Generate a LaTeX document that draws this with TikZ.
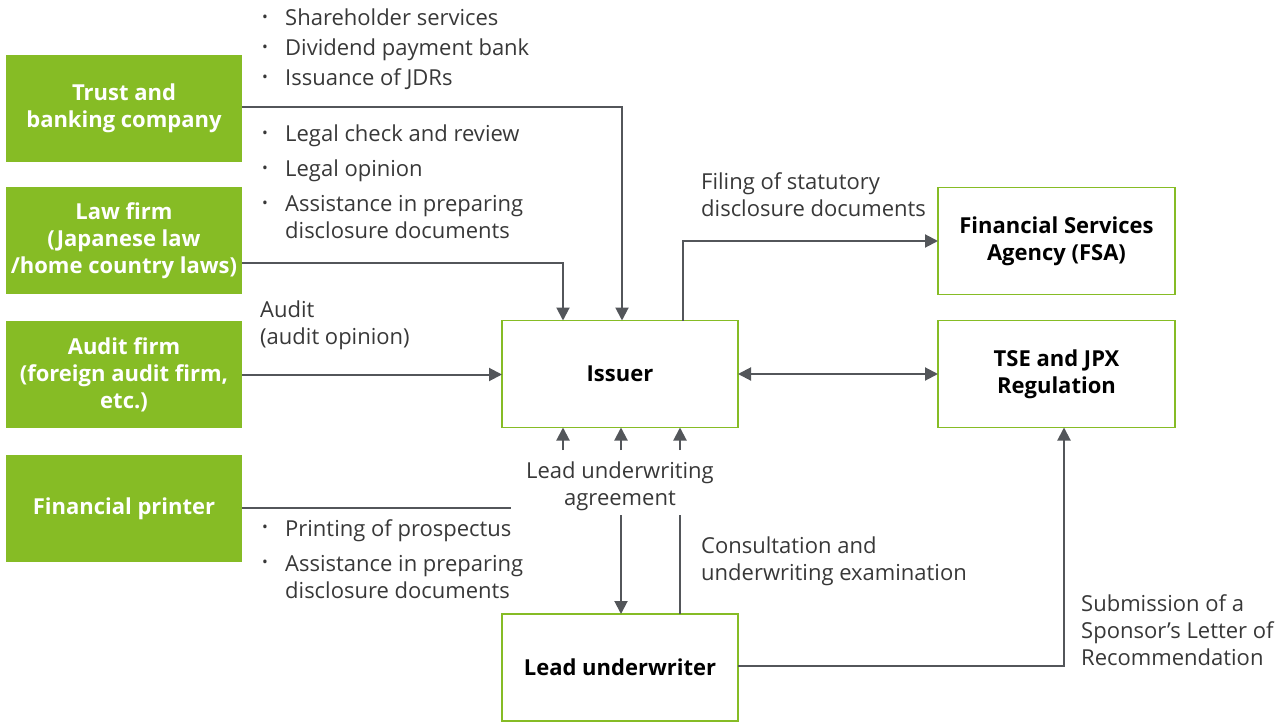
\documentclass[tikz,border=0pt]{standalone}
\usepackage{fontspec}
\setmainfont{Open Sans}
\usetikzlibrary{arrows.meta}
\definecolor{dgreen}{HTML}{86BC25}
\definecolor{lgray}{HTML}{53565A}
\definecolor{txt}{HTML}{383838}
\newcommand\bul{\makebox[23bp][l]{\raisebox{0.16em}{\scalebox{0.7}{•}}}}
\begin{document}
\begin{tikzpicture}[x=1bp,y=-1bp,
  solidbox/.style={fill=dgreen, text=white, font=\fontsize{22bp}{27bp}\selectfont\bfseries,
    minimum width=236bp, minimum height=107bp, align=center, inner sep=0, outer sep=0},
  outbox/.style={draw=dgreen, line width=1.5bp, fill=white, text=black,
    font=\fontsize{22bp}{27bp}\selectfont\bfseries,
    minimum width=236bp, minimum height=107bp, align=center, inner sep=0, outer sep=0},
  lbl/.style={text=txt, font=\fontsize{22bp}{27bp}\selectfont, inner sep=0, align=left, anchor=base west},
  conn/.style={draw=lgray, line width=2bp},
  arr/.style={conn, -{Triangle[length=13bp,width=13bp]}},
  darr/.style={conn, {Triangle[length=13bp,width=13bp]}-{Triangle[length=13bp,width=13bp]}},
]
\useasboundingbox (0,0) rectangle (1285,722);
% boxes
\node[solidbox] (trust)   at (124,108.5) {Trust and\\banking company};
\node[solidbox] (law)     at (124,240.5) {Law firm\\(Japanese law\\/home country laws)};
\node[solidbox] (audit)   at (124,374.5) {Audit firm\\(foreign audit firm,\\etc.)};
\node[solidbox] (printer) at (124,508.5) {Financial printer};
\node[outbox] (issuer) at (620,374) {Issuer};
\node[outbox, minimum width=237bp] (fsa) at (1056.5,241) {Financial Services\\Agency (FSA)};
\node[outbox, minimum width=237bp] (tse) at (1056.5,374) {TSE and JPX\\Regulation};
\node[outbox] (lead) at (620,667.5) {Lead underwriter};
% labels (base = baseline of last line)
\node[lbl] (l1) at (262,26) {\bul Shareholder services};
\node[lbl] (l2) at (262,56) {\bul Dividend payment bank};
\node[lbl] (l3) at (262,86) {\bul Issuance of JDRs};
\node[lbl] (l4) at (262,142) {\bul Legal check and review};
\node[lbl] (l5) at (262,177) {\bul Legal opinion};
\node[lbl] (l6) at (262,239) {\bul Assistance in preparing\\\hphantom{\bul}disclosure documents};
\node[lbl] (l7) at (260,344) {Audit\\(audit opinion)};
\node[lbl] (l8) at (701,217) {Filing of statutory\\disclosure documents};
\node[lbl, align=center, anchor=base] (l9) at (620,505) {Lead underwriting\\agreement};
\node[lbl] (l10) at (262,536) {\bul Printing of prospectus};
\node[lbl] (l11) at (262,598) {\bul Assistance in preparing\\\hphantom{\bul}disclosure documents};
\node[lbl] (l12) at (701,580) {Consultation and\\underwriting examination};
\node[lbl] (l13) at (1081,665) {Submission of a\\Sponsor’s Letter of\\Recommendation};
% connectors
\draw[arr] ([shift={(0,-1.5)}]trust.east) -| ([xshift=2bp]issuer.north);
\draw[arr] ([shift={(0,22.5)}]law.east) -| ([xshift=-57bp]issuer.north);
\draw[arr] (audit.east) -- (audit.east -| issuer.west);
\draw[darr] (issuer.east) -- (tse.west);
\draw[arr] ([xshift=63bp]issuer.north) |- (fsa.west);
\coordinate (pend) at (511,508);
\draw[conn] (printer.east |- pend) -- (pend);
\coordinate (u1) at (563,450);
\coordinate (u2) at (621,450);
\coordinate (u3) at (680,450);
\draw[arr] (u1) -- (u1 |- issuer.south);
\draw[arr] (u2) -- (u2 |- issuer.south);
\draw[arr] (u3) -- (u3 |- issuer.south);
\coordinate (d1) at (621,515);
\coordinate (d2) at (680,515);
\draw[arr] (d1) -- (d1 |- lead.north);
\draw[conn] (d2) -- (d2 |- lead.north);
\draw[arr] ([shift={(0,-1.5)}]lead.east) -| ([xshift=7.5bp]tse.south);
\end{tikzpicture}
\end{document}
